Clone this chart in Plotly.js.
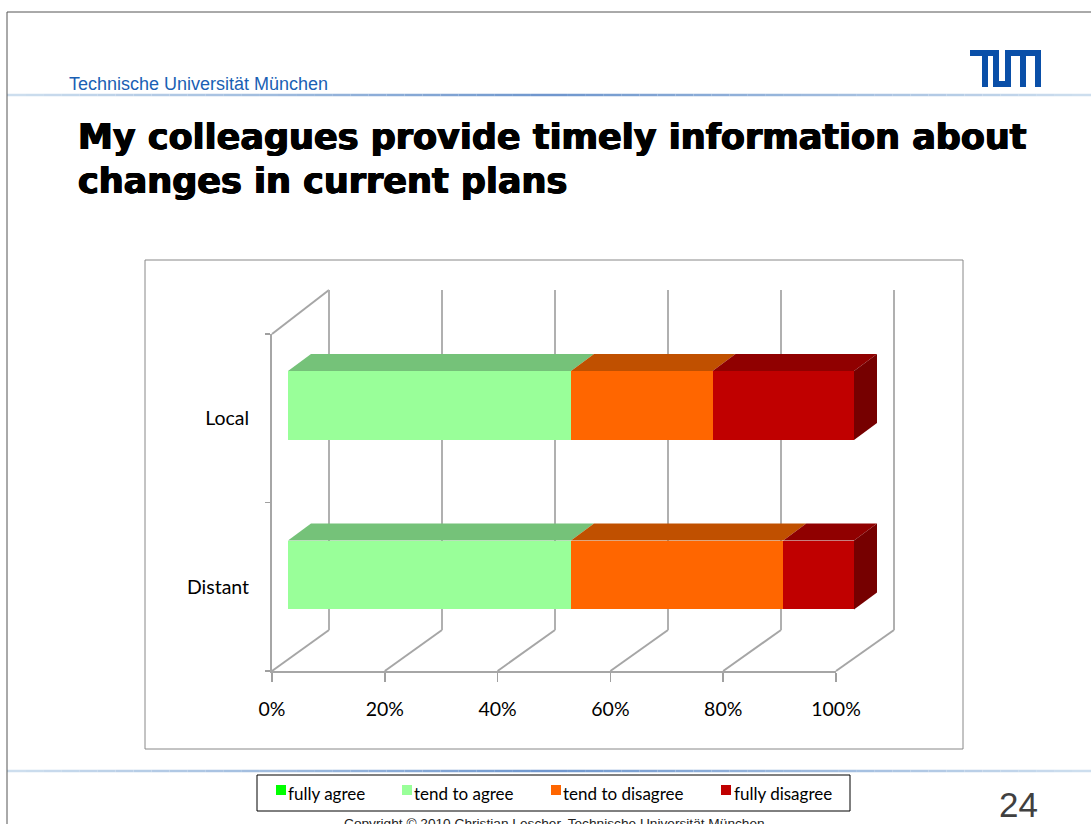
<!DOCTYPE html>
<html><head><meta charset="utf-8">
<script src="https://cdn.plot.ly/plotly-3.0.1.min.js"></script>
<style>html,body{margin:0;padding:0;background:#fff;overflow:hidden}</style>
</head><body><div id="chart" style="width:1091px;height:824px"></div>
<script>
const categories = ["Distant", "Local"];
const seriesNames = ["fully agree", "tend to agree", "tend to disagree", "fully disagree"];
const fullyAgree = [0, 0];
const tendToAgree = [50, 50];
const tendToDisagree = [37.5, 25];
const fullyDisagree = [12.5, 25];
const seriesColors = ["#00ff00", "#99ff99", "#ff6600", "#c00000"];
const topColors = ["#00b000", "#75c279", "#c05000", "#900000"];
const sideColors = ["#008000", "#60a060", "#a04000", "#760000"];
const xTicks = [0, 20, 40, 60, 80, 100];
const xTickLabels = ["0%", "20%", "40%", "60%", "80%", "100%"];

const W = 1091, H = 824;
const px = v => v / W, py = v => 1 - v / H;
const values = [fullyAgree, tendToAgree, tendToDisagree, fullyDisagree];

const barLeft = 288, pxPerPct = 5.66, barHalf = 0.203, barAxisMax = 110;
const depthX = 23 / pxPerPct;
const depthY = 17 / 169.5;

const traces = [];
traces.push({ type: "scatter", mode: "markers", x: [0, 100], y: [0, 1], xaxis: "x", yaxis: "y",
  marker: { opacity: 0 }, showlegend: false, hoverinfo: "skip" });
traces.push({ type: "scatter", mode: "markers", x: [0, 100], y: categories, xaxis: "x2", yaxis: "y2",
  marker: { opacity: 0 }, showlegend: false, hoverinfo: "skip" });
values.forEach((v, i) => traces.push({
  type: "bar", orientation: "h", name: seriesNames[i], y: categories, x: v,
  xaxis: "x3", yaxis: "y3", marker: { color: seriesColors[i], line: { width: 0 } }, showlegend: false
}));

const shapes = [];
const line = (x0, y0, x1, y1, color, width) => ({ type: "line", xref: "paper", yref: "paper",
  x0: px(x0), y0: py(y0), x1: px(x1), y1: py(y1), line: { color, width }, layer: "below" });

function rule(y) {
  const n = 60;
  for (let i = 0; i < n; i++) {
    const t = 1 - Math.abs(i / (n - 1) - 0.5) * 2;
    const mix = (a, b) => Math.round(a + (b - a) * t);
    const c = `rgb(${mix(205, 110)},${mix(222, 150)},${mix(238, 205)})`;
    shapes.push(line(7 + i * 1084 / n, y, 7 + (i + 1) * 1084 / n, y, c, 2.5));
  }
}
rule(95); rule(771);

shapes.push(line(7, 12, 1091, 12, "#555555", 1));
shapes.push(line(7, 12, 7, 824, "#555555", 1));

shapes.push({ type: "rect", xref: "paper", yref: "paper", x0: px(145), x1: px(963), y0: py(749), y1: py(260),
  line: { color: "#888888", width: 1 }, fillcolor: "#ffffff", layer: "below" });

xTicks.forEach(t => {
  shapes.push(line(272 + t * 5.64, 671, 329 + t * 5.65, 630, "#a6a6a6", 2));
});
shapes.push(line(272, 334, 329, 290, "#a6a6a6", 2));

categories.forEach((c, ci) => {
  let acc = 0, last = -1;
  const yt = ci + barHalf, yb = ci - barHalf;
  values.forEach((v, si) => {
    const a = acc, b = acc + v[ci];
    acc = b;
    if (v[ci] > 0) {
      last = si;
      shapes.push({ type: "path", xref: "x3", yref: "y3", layer: "above", line: { width: 0 }, fillcolor: topColors[si],
        path: `M${a},${yt} L${a + depthX},${yt + depthY} L${b + depthX},${yt + depthY} L${b},${yt} Z` });
    }
  });
  shapes.push({ type: "path", xref: "x3", yref: "y3", layer: "above", line: { width: 0 }, fillcolor: sideColors[last],
    path: `M${acc},${yb} L${acc + depthX},${yb + depthY} L${acc + depthX},${yt + depthY} L${acc},${yt} Z` });
});

// TUM logo
const logo = "#0a4fa8";
[[970, 50, 999, 56], [982, 56, 988, 87], [993, 56, 999, 87], [993, 81, 1011, 87], [1005, 50, 1011, 87],
 [1005, 50, 1041, 56], [1020, 56, 1026, 87], [1035, 56, 1041, 87]].forEach(r => {
  shapes.push({ type: "rect", xref: "paper", yref: "paper", x0: px(r[0]), x1: px(r[2]), y0: py(r[3]), y1: py(r[1]),
    fillcolor: logo, line: { width: 0 }, layer: "above" });
});

shapes.push({ type: "rect", xref: "paper", yref: "paper", x0: px(257), x1: px(850), y0: py(811), y1: py(775),
  line: { color: "#000000", width: 1 }, fillcolor: "#ffffff", layer: "above" });
const legendMarkerX = [276, 402, 551, 721];
const legendTextX = [286, 412, 561, 732];
seriesNames.forEach((n, i) => {
  shapes.push({ type: "rect", xref: "paper", yref: "paper", x0: px(legendMarkerX[i]), x1: px(legendMarkerX[i] + 10),
    y0: py(795), y1: py(785), fillcolor: seriesColors[i], line: { width: 0 }, layer: "above" });
});

const txt = (text, x, y, size, color, family, anchor, extra) => Object.assign({
  text, xref: "paper", yref: "paper", x: px(x), y: py(y), xanchor: anchor || "left", yanchor: "middle",
  showarrow: false, font: Object.assign({ size, color, family }, extra || {}), align: "left"
});
const heavy = { shadow: "0.7px 0 0 #000, -0.7px 0 0 #000, 0 0.4px 0 #000" };

const annotations = [
  txt("Technische Universität München", 67, 84, 18, "#1a5fb4", "Liberation Sans"),
  txt("<b>My colleagues provide timely information about</b>", 76, 137, 35, "#000000", "DejaVu Sans", "left", heavy),
  txt("<b>changes in current plans</b>", 76, 181, 35, "#000000", "DejaVu Sans", "left", heavy),
  txt("24", 1018, 804, 35, "#404040", "Liberation Sans", "center"),
  txt("Copyright © 2010 Christian Lescher, Technische Universität München", 554, 823, 13.7, "#222222", "Liberation Sans", "center"),
];
seriesNames.forEach((n, i) => annotations.push(txt(n, legendTextX[i], 793, 17, "#000000", "Lato")));

const tf = { size: 19.5, family: "Lato", color: "#000000" };
const wallPad = 2; // percent of padding so the 0% and 100% gridlines are drawn
const layout = {
  width: W, height: H, margin: { l: 0, r: 0, t: 0, b: 0 }, autosize: false,
  paper_bgcolor: "#ffffff", plot_bgcolor: "rgba(0,0,0,0)", barmode: "stack", bargap: 1 - 2 * barHalf,
  showlegend: false, font: { family: "Lato", size: 18, color: "#000000" },
  xaxis: { domain: [px(329 - wallPad * 5.65), px(894 + wallPad * 5.65)], range: [-wallPad, 100 + wallPad], anchor: "y", tickmode: "array", tickvals: xTicks, showticklabels: false,
    showgrid: true, gridcolor: "#b0b0b0", gridwidth: 2, zeroline: false, showline: false, ticks: "", fixedrange: true },
  yaxis: { domain: [py(630), py(290)], range: [0, 1], anchor: "x", showticklabels: false, showgrid: false, zeroline: false, showline: false, ticks: "", fixedrange: true },
  xaxis2: { domain: [px(272), px(836)], range: [0, 100], anchor: "y2", tickmode: "array", tickvals: xTicks, ticktext: xTickLabels,
    showgrid: false, zeroline: false, showline: true, linecolor: "#a6a6a6", linewidth: 2, ticks: "outside", ticklen: 9, tickwidth: 1.5, tickcolor: "#a0a0a0",
    tickfont: tf, ticklabelstandoff: 11, fixedrange: true },
  yaxis2: { domain: [py(671), py(334)], range: [-0.5, 1.5], type: "category", categoryarray: categories, anchor: "x2",
    showgrid: false, zeroline: false, showline: true, linecolor: "#a6a6a6", linewidth: 2, ticks: "outside", ticklen: 5, tickwidth: 1.5, tickson: "boundaries", tickcolor: "#a0a0a0",
    tickfont: tf, ticklabelstandoff: 17, ticklabelshift: -2.5, fixedrange: true },
  xaxis3: { domain: [px(barLeft), px(barLeft + barAxisMax * pxPerPct)], range: [0, barAxisMax], anchor: "y3", visible: false, fixedrange: true },
  yaxis3: { domain: [py(659.75), py(320.75)], range: [-0.5, 1.5], type: "category", categoryarray: categories, anchor: "x3", visible: false, fixedrange: true },
  shapes, annotations
};
Plotly.newPlot("chart", traces, layout, { displayModeBar: false, staticPlot: true });
</script></body></html>
